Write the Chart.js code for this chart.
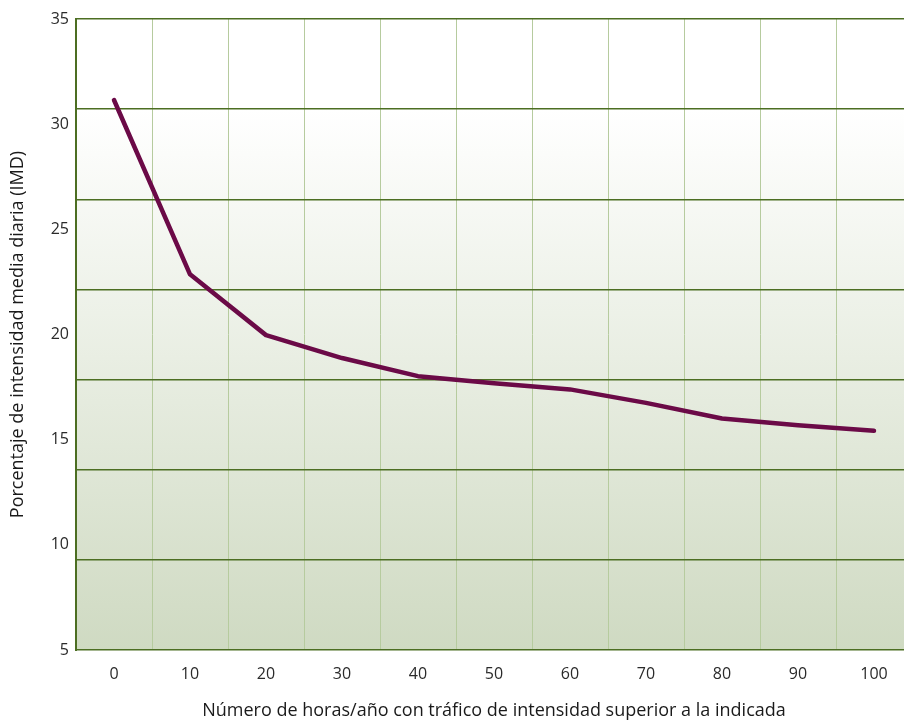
<!DOCTYPE html>
<html>
<head>
<meta charset="utf-8">
<script src="https://cdn.jsdelivr.net/npm/chart.js@4.4.1/dist/chart.umd.min.js"></script>
<style>
html,body{margin:0;padding:0;background:#fff;overflow:hidden;width:904px;height:722px;}
#wrap{width:912px;height:722px;}
</style>
</head>
<body>
<div id="wrap"><canvas id="c" width="912" height="722"></canvas></div>
<script>
const categories = ['0','10','20','30','40','50','60','70','80','90','100'];
const imdPercent = [31.15, 22.86, 19.97, 18.88, 18.02, 17.68, 17.39, 16.75, 16.01, 15.69, 15.42];
const xTitle = 'Número de horas/año con tráfico de intensidad superior a la indicada';
const yTitle = 'Porcentaje de intensidad media diaria (IMD)';

const FONT = '"Open Sans", "Noto Sans", sans-serif';

const bgPlugin = {
  id: 'bg',
  beforeDraw(chart) {
    const {ctx, chartArea: a} = chart;
    const gStart = chart.scales.y2.getPixelForValue(6);
    const g = ctx.createLinearGradient(0, gStart, 0, a.bottom);
    g.addColorStop(0, '#ffffff');
    g.addColorStop(1, '#cfdac2');
    ctx.save();
    ctx.fillStyle = '#ffffff';
    ctx.fillRect(a.left, a.top, a.right - a.left, gStart - a.top);
    ctx.fillStyle = g;
    ctx.fillRect(a.left, gStart, a.right - a.left, a.bottom - gStart);
    ctx.restore();
  }
};

new Chart(document.getElementById('c'), {
  type: 'line',
  data: {
    labels: categories,
    datasets: [{
      data: imdPercent,
      borderColor: '#6b0a47',
      borderWidth: 4.5,
      pointRadius: 0,
      tension: 0,
      borderCapStyle: 'round',
      borderJoinStyle: 'round',
      fill: false,
      yAxisID: 'y'
    }]
  },
  options: {
    responsive: false,
    animation: false,
    layout: {padding: {top: 19, left: 0, right: 0, bottom: 0}},
    plugins: {legend: {display: false}, tooltip: {enabled: false}},
    scales: {
      x: {
        type: 'category',
        offset: true,
        grid: {offset: true, color: '#b6cb9e', lineWidth: 1, drawTicks: false, tickLength: 0},
        border: {display: false},
        ticks: {color: '#2a2a2a', font: {family: FONT, size: 16}, padding: 15, maxRotation: 0},
        title: {display: true, text: xTitle, color: '#1a1a1a', font: {family: FONT, size: 18}, padding: {top: 12, bottom: 0}},
        afterFit(s) { s.height = 72; }
      },
      y: {
        position: 'left',
        min: 5, max: 35,
        ticks: {stepSize: 5, color: '#2a2a2a', font: {family: FONT, size: 16}, padding: 7},
        grid: {display: false, drawTicks: false},
        border: {display: true, color: '#4c6e22', width: 2},
        title: {display: true, text: yTitle, color: '#1a1a1a', font: {family: FONT, size: 18}, padding: {top: 7, bottom: 0}},
        afterFit(s) { s.width = 76; }
      },
      y2: {
        position: 'right',
        min: 0, max: 7,
        ticks: {stepSize: 1, display: false},
        grid: {color: '#4c6e22', lineWidth: 1.5, drawTicks: false},
        border: {display: false},
        afterFit(s) { s.width = 0; }
      }
    }
  },
  plugins: [bgPlugin]
});
</script>
</body>
</html>
